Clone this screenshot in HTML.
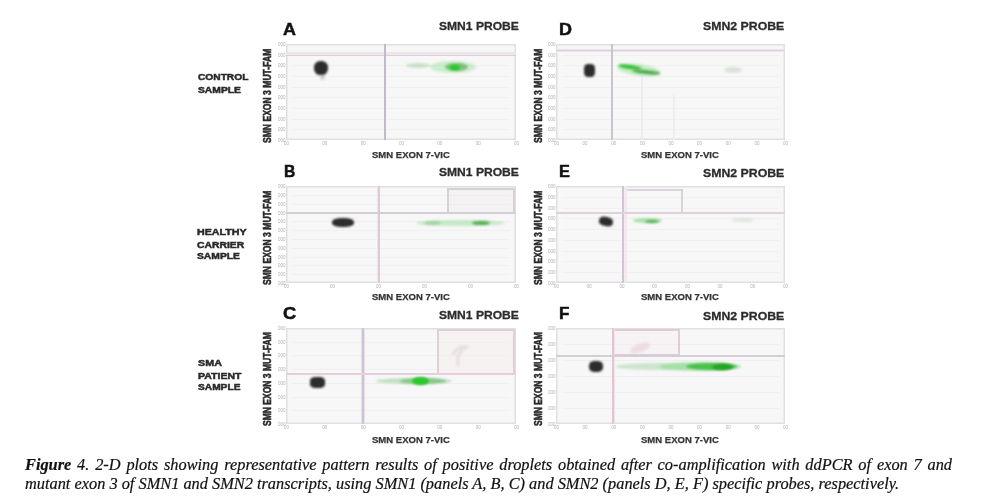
<!DOCTYPE html>
<html><head><meta charset="utf-8"><title>Figure 4</title>
<style>
html,body{margin:0;padding:0;background:#fff;}
body{width:991px;height:496px;position:relative;overflow:hidden;font-family:"Liberation Sans", Arial, sans-serif;}
.a{position:absolute;white-space:nowrap;}
.t{font-weight:bold;transform-origin:0 50%;-webkit-text-stroke:0.5px currentColor;}
#fig{position:absolute;left:0;top:0;width:991px;height:450px;filter:blur(0.55px);}
.plot{position:absolute;background:#f7f7f7;box-shadow:inset 0 0 0 1.5px #e0e0e0;}
.plot div{position:absolute;}
.tk{font-size:4.5px;line-height:5px;color:#b0b0b0;}
.cap{font-family:"Liberation Serif", "Times New Roman", serif;font-style:italic;font-size:16.35px;line-height:19px;color:#111;left:25px;width:927px;-webkit-text-stroke:0.2px #111;}
</style></head><body>

<div id="fig">
<div class="a t" style="left:197.64px;top:71.81px;font-size:9.80px;line-height:9.80px;color:#2a2a2a;transform:scaleX(1.040);">CONTROL</div>
<div class="a t" style="left:197.64px;top:84.65px;font-size:9.80px;line-height:9.80px;color:#2a2a2a;transform:scaleX(1.051);">SAMPLE</div>
<div class="a t" style="left:197.14px;top:227.09px;font-size:9.80px;line-height:9.80px;color:#2a2a2a;transform:scaleX(1.091);">HEALTHY</div>
<div class="a t" style="left:197.14px;top:239.53px;font-size:9.80px;line-height:9.80px;color:#2a2a2a;transform:scaleX(1.059);">CARRIER</div>
<div class="a t" style="left:197.14px;top:251.03px;font-size:9.80px;line-height:9.80px;color:#2a2a2a;transform:scaleX(1.051);">SAMPLE</div>
<div class="a t" style="left:198.40px;top:358.27px;font-size:9.80px;line-height:9.80px;color:#2a2a2a;transform:scaleX(1.099);">SMA</div>
<div class="a t" style="left:198.40px;top:370.87px;font-size:9.80px;line-height:9.80px;color:#2a2a2a;transform:scaleX(1.074);">PATIENT</div>
<div class="a t" style="left:198.40px;top:382.43px;font-size:9.80px;line-height:9.80px;color:#2a2a2a;transform:scaleX(1.039);">SAMPLE</div>
<div class="a t" style="left:283.40px;top:21.07px;font-size:17.00px;line-height:17.00px;color:#111;transform:scaleX(1.054);">A</div>
<div class="a t" style="left:438.58px;top:21.28px;font-size:11.80px;line-height:11.80px;color:#2c2c2c;transform:scaleX(1.024);-webkit-text-stroke-width:0.3px">SMN1 PROBE</div>
<div class="a t" style="left:262.95px;top:142.60px;font-size:10.00px;line-height:10.00px;color:#2a2a2a;transform-origin:0 0;transform:rotate(-90deg) scaleX(0.857)">SMN EXON 3 MUT-FAM</div>
<div class="plot" style="left:286px;top:44px;width:230px;height:96px"><div style="left:6px;right:6px;top:10.7px;height:1px;background:#f0f0f0"></div><div style="left:6px;right:6px;top:21.3px;height:1px;background:#f0f0f0"></div><div style="left:6px;right:6px;top:32.0px;height:1px;background:#f0f0f0"></div><div style="left:6px;right:6px;top:42.7px;height:1px;background:#f0f0f0"></div><div style="left:6px;right:6px;top:53.3px;height:1px;background:#f0f0f0"></div><div style="left:6px;right:6px;top:64.0px;height:1px;background:#f0f0f0"></div><div style="left:6px;right:6px;top:74.7px;height:1px;background:#f0f0f0"></div><div style="left:6px;right:6px;top:85.3px;height:1px;background:#f0f0f0"></div><div style="left:0;right:0;top:8.0px;height:3.0px;background:#efe4ec"></div><div style="left:0;right:0;top:10.6px;height:1.8px;background:#d6d2d8"></div><div style="top:0;bottom:0;left:97.8px;width:1.8px;background:#c2bac8"></div><div style="left:120.0px;top:18.5px;width:24.0px;height:5.0px;border-radius:50%;background:rgba(150,200,150,0.45);filter:blur(1px);transform:rotate(0deg)"></div><div style="left:144.0px;top:17.0px;width:46.0px;height:12.0px;border-radius:50%;background:rgba(150,225,150,0.45);filter:blur(1px);transform:rotate(0deg)"></div><div style="left:159.0px;top:18.5px;width:23.0px;height:8.5px;border-radius:50%;background:rgba(70,165,70,0.6);filter:blur(1px);transform:rotate(0deg)"></div><div style="left:163.5px;top:20.5px;width:10.5px;height:5.5px;border-radius:50%;background:rgb(30,205,30);filter:blur(1px);transform:rotate(0deg)"></div><div style="left:27.5px;top:16.5px;width:14.0px;height:14.0px;border-radius:45%;background:#2c2c2c;filter:blur(1.2px);transform:rotate(0deg)"></div><div style="left:34.0px;top:30.0px;width:5.0px;height:6.0px;border-radius:50%;background:rgba(90,90,90,0.25);filter:blur(1.2px);transform:rotate(0deg)"></div></div>
<div class="a tk" style="left:278px;top:42.0px">000</div>
<div class="a tk" style="left:278px;top:52.7px">000</div>
<div class="a tk" style="left:278px;top:63.3px">000</div>
<div class="a tk" style="left:278px;top:74.0px">000</div>
<div class="a tk" style="left:278px;top:84.7px">000</div>
<div class="a tk" style="left:278px;top:95.3px">000</div>
<div class="a tk" style="left:278px;top:106.0px">000</div>
<div class="a tk" style="left:278px;top:116.7px">000</div>
<div class="a tk" style="left:278px;top:127.3px">000</div>
<div class="a tk" style="left:278px;top:138.0px">000</div>
<div class="a tk" style="left:284.0px;top:141px">00</div>
<div class="a tk" style="left:322.3px;top:141px">00</div>
<div class="a tk" style="left:360.7px;top:141px">00</div>
<div class="a tk" style="left:399.0px;top:141px">00</div>
<div class="a tk" style="left:437.3px;top:141px">00</div>
<div class="a tk" style="left:475.7px;top:141px">00</div>
<div class="a tk" style="left:514.0px;top:141px">00</div>
<div class="a t" style="left:372.40px;top:150.43px;font-size:9.80px;line-height:9.80px;color:#333;transform:scaleX(0.972);-webkit-text-stroke-width:0.25px">SMN EXON 7-VIC</div>
<div class="a t" style="left:283.50px;top:163.35px;font-size:17.00px;line-height:17.00px;color:#111;transform:scaleX(0.923);">B</div>
<div class="a t" style="left:438.58px;top:167.28px;font-size:11.80px;line-height:11.80px;color:#2c2c2c;transform:scaleX(1.024);-webkit-text-stroke-width:0.3px">SMN1 PROBE</div>
<div class="a t" style="left:262.95px;top:284.60px;font-size:10.00px;line-height:10.00px;color:#2a2a2a;transform-origin:0 0;transform:rotate(-90deg) scaleX(0.857)">SMN EXON 3 MUT-FAM</div>
<div class="plot" style="left:286px;top:186px;width:230px;height:97px"><div style="left:6px;right:6px;top:8.8px;height:1px;background:#f0f0f0"></div><div style="left:6px;right:6px;top:17.6px;height:1px;background:#f0f0f0"></div><div style="left:6px;right:6px;top:26.5px;height:1px;background:#f0f0f0"></div><div style="left:6px;right:6px;top:35.3px;height:1px;background:#f0f0f0"></div><div style="left:6px;right:6px;top:44.1px;height:1px;background:#f0f0f0"></div><div style="left:6px;right:6px;top:52.9px;height:1px;background:#f0f0f0"></div><div style="left:6px;right:6px;top:61.7px;height:1px;background:#f0f0f0"></div><div style="left:6px;right:6px;top:70.5px;height:1px;background:#f0f0f0"></div><div style="left:6px;right:6px;top:79.4px;height:1px;background:#f0f0f0"></div><div style="left:6px;right:6px;top:88.2px;height:1px;background:#f0f0f0"></div><div style="left:160.5px;top:1.5px;width:68.5px;height:26.5px;border:2.2px solid #d8d0d6;background:rgba(240,232,236,0.3);box-sizing:border-box"></div><div style="top:0;bottom:0;left:90.9px;width:3.5px;background:#f2e2ec"></div><div style="top:0;bottom:0;left:91.8px;width:1.8px;background:#e0c8d6"></div><div style="left:0;right:0;top:26.2px;height:2.0px;background:#d2ced4"></div><div style="left:130.0px;top:33.8px;width:89.0px;height:6.2px;border-radius:50%;background:rgba(160,222,160,0.55);filter:blur(1px);transform:rotate(0deg)"></div><div style="left:138.0px;top:34.5px;width:17.0px;height:4.5px;border-radius:50%;background:rgba(120,190,120,0.45);filter:blur(1px);transform:rotate(0deg)"></div><div style="left:186.0px;top:34.8px;width:18.0px;height:4.2px;border-radius:50%;background:rgba(80,170,80,0.9);filter:blur(1px);transform:rotate(0deg)"></div><div style="left:45.5px;top:32.2px;width:22.0px;height:8.5px;border-radius:45%;background:#2c2c2c;filter:blur(1.2px);transform:rotate(0deg)"></div></div>
<div class="a tk" style="left:278px;top:184.0px">000</div>
<div class="a tk" style="left:278px;top:192.8px">000</div>
<div class="a tk" style="left:278px;top:201.6px">000</div>
<div class="a tk" style="left:278px;top:210.5px">000</div>
<div class="a tk" style="left:278px;top:219.3px">000</div>
<div class="a tk" style="left:278px;top:228.1px">000</div>
<div class="a tk" style="left:278px;top:236.9px">000</div>
<div class="a tk" style="left:278px;top:245.7px">000</div>
<div class="a tk" style="left:278px;top:254.5px">000</div>
<div class="a tk" style="left:278px;top:263.4px">000</div>
<div class="a tk" style="left:278px;top:272.2px">000</div>
<div class="a tk" style="left:278px;top:281.0px">000</div>
<div class="a tk" style="left:284.0px;top:284px">00</div>
<div class="a tk" style="left:330.0px;top:284px">00</div>
<div class="a tk" style="left:376.0px;top:284px">00</div>
<div class="a tk" style="left:422.0px;top:284px">00</div>
<div class="a tk" style="left:468.0px;top:284px">00</div>
<div class="a tk" style="left:514.0px;top:284px">00</div>
<div class="a t" style="left:372.40px;top:292.43px;font-size:9.80px;line-height:9.80px;color:#333;transform:scaleX(0.972);-webkit-text-stroke-width:0.25px">SMN EXON 7-VIC</div>
<div class="a t" style="left:283.14px;top:305.45px;font-size:17.00px;line-height:17.00px;color:#111;transform:scaleX(1.075);">C</div>
<div class="a t" style="left:438.58px;top:310.34px;font-size:11.80px;line-height:11.80px;color:#2c2c2c;transform:scaleX(1.024);-webkit-text-stroke-width:0.3px">SMN1 PROBE</div>
<div class="a t" style="left:262.95px;top:425.60px;font-size:10.00px;line-height:10.00px;color:#2a2a2a;transform-origin:0 0;transform:rotate(-90deg) scaleX(0.852)">SMN EXON 3 MUT-FAM</div>
<div class="plot" style="left:286px;top:328px;width:230px;height:96px"><div style="left:6px;right:6px;top:13.7px;height:1px;background:#f0f0f0"></div><div style="left:6px;right:6px;top:27.4px;height:1px;background:#f0f0f0"></div><div style="left:6px;right:6px;top:41.1px;height:1px;background:#f0f0f0"></div><div style="left:6px;right:6px;top:54.9px;height:1px;background:#f0f0f0"></div><div style="left:6px;right:6px;top:68.6px;height:1px;background:#f0f0f0"></div><div style="left:6px;right:6px;top:82.3px;height:1px;background:#f0f0f0"></div><div style="left:150.5px;top:1.0px;width:78.5px;height:45.5px;border:2.2px solid #e0d0d6;background:rgba(244,234,236,0.4);box-sizing:border-box"></div><div style="top:0;bottom:0;left:75.1px;width:3.5px;background:#e8dce6"></div><div style="top:0;bottom:0;left:75.8px;width:2.0px;background:#cfc4d4"></div><div style="left:0;right:0;top:44.6px;height:2.2px;background:#e8cedc"></div><div style="left:90.0px;top:50.0px;width:76.0px;height:6.0px;border-radius:50%;background:rgba(150,205,150,0.55);filter:blur(1px);transform:rotate(0deg)"></div><div style="left:114.0px;top:49.5px;width:46.0px;height:6.5px;border-radius:50%;background:rgba(90,180,90,0.55);filter:blur(1px);transform:rotate(0deg)"></div><div style="left:126.0px;top:48.5px;width:17.0px;height:8.0px;border-radius:50%;background:rgb(40,200,40);filter:blur(1px);transform:rotate(0deg)"></div><div style="left:23.7px;top:49.1px;width:15.0px;height:10.5px;border-radius:35%;background:#2c2c2c;filter:blur(1.2px);transform:rotate(0deg)"></div><svg style="position:absolute;left:0;top:0;overflow:visible;filter:blur(1.3px)" width="1" height="1"><path d="M167.0 27.0 Q172.0 17.0 180.0 19.0 Q170.0 24.0 172.0 38.0" fill="none" stroke="rgba(210,190,195,0.4)" stroke-width="3"/></svg></div>
<div class="a tk" style="left:278px;top:326.0px">000</div>
<div class="a tk" style="left:278px;top:339.7px">000</div>
<div class="a tk" style="left:278px;top:353.4px">000</div>
<div class="a tk" style="left:278px;top:367.1px">000</div>
<div class="a tk" style="left:278px;top:380.9px">000</div>
<div class="a tk" style="left:278px;top:394.6px">000</div>
<div class="a tk" style="left:278px;top:408.3px">000</div>
<div class="a tk" style="left:278px;top:422.0px">000</div>
<div class="a tk" style="left:284.0px;top:425px">00</div>
<div class="a tk" style="left:322.3px;top:425px">00</div>
<div class="a tk" style="left:360.7px;top:425px">00</div>
<div class="a tk" style="left:399.0px;top:425px">00</div>
<div class="a tk" style="left:437.3px;top:425px">00</div>
<div class="a tk" style="left:475.7px;top:425px">00</div>
<div class="a tk" style="left:514.0px;top:425px">00</div>
<div class="a t" style="left:372.40px;top:434.93px;font-size:9.80px;line-height:9.80px;color:#333;transform:scaleX(0.972);-webkit-text-stroke-width:0.25px">SMN EXON 7-VIC</div>
<div class="a t" style="left:558.94px;top:21.07px;font-size:17.00px;line-height:17.00px;color:#111;transform:scaleX(1.056);">D</div>
<div class="a t" style="left:703.14px;top:21.28px;font-size:11.80px;line-height:11.80px;color:#2c2c2c;transform:scaleX(1.042);-webkit-text-stroke-width:0.3px">SMN2 PROBE</div>
<div class="a t" style="left:533.94px;top:142.60px;font-size:10.00px;line-height:10.00px;color:#2a2a2a;transform-origin:0 0;transform:rotate(-90deg) scaleX(0.857)">SMN EXON 3 MUT-FAM</div>
<div class="plot" style="left:556px;top:44px;width:229px;height:96px"><div style="left:6px;right:6px;top:10.7px;height:1px;background:#f0f0f0"></div><div style="left:6px;right:6px;top:21.3px;height:1px;background:#f0f0f0"></div><div style="left:6px;right:6px;top:32.0px;height:1px;background:#f0f0f0"></div><div style="left:6px;right:6px;top:42.7px;height:1px;background:#f0f0f0"></div><div style="left:6px;right:6px;top:53.3px;height:1px;background:#f0f0f0"></div><div style="left:6px;right:6px;top:64.0px;height:1px;background:#f0f0f0"></div><div style="left:6px;right:6px;top:74.7px;height:1px;background:#f0f0f0"></div><div style="left:6px;right:6px;top:85.3px;height:1px;background:#f0f0f0"></div><div style="left:0;right:0;top:4.9px;height:3.5px;background:#ece2ea"></div><div style="left:0;right:0;top:5.9px;height:1.5px;background:#dcd2da"></div><div style="top:0;bottom:0;left:55.0px;width:1.8px;background:#cbc4cf"></div><div style="top:31.0px;height:65.0px;left:85.0px;width:2.0px;background:#ededed"></div><div style="top:51.0px;height:45.0px;left:116.5px;width:2.0px;background:#efefef"></div><div style="left:61.0px;top:19.5px;width:44.0px;height:12.0px;border-radius:50%;background:rgba(150,225,150,0.5);filter:blur(1px);transform:rotate(8deg)"></div><div style="left:62.0px;top:21.3px;width:24.0px;height:4.2px;border-radius:50%;background:rgb(50,195,50);filter:blur(1px);transform:rotate(8deg)"></div><div style="left:76.0px;top:26.0px;width:28.0px;height:4.0px;border-radius:50%;background:rgb(80,170,80);filter:blur(1px);transform:rotate(6deg)"></div><div style="left:168.0px;top:23.0px;width:18.0px;height:6.0px;border-radius:50%;background:rgba(170,200,170,0.4);filter:blur(1px);transform:rotate(0deg)"></div><div style="left:27.8px;top:19.5px;width:11.0px;height:13.0px;border-radius:35%;background:#2c2c2c;filter:blur(1.2px);transform:rotate(0deg)"></div></div>
<div class="a tk" style="left:548px;top:42.0px">000</div>
<div class="a tk" style="left:548px;top:52.7px">000</div>
<div class="a tk" style="left:548px;top:63.3px">000</div>
<div class="a tk" style="left:548px;top:74.0px">000</div>
<div class="a tk" style="left:548px;top:84.7px">000</div>
<div class="a tk" style="left:548px;top:95.3px">000</div>
<div class="a tk" style="left:548px;top:106.0px">000</div>
<div class="a tk" style="left:548px;top:116.7px">000</div>
<div class="a tk" style="left:548px;top:127.3px">000</div>
<div class="a tk" style="left:548px;top:138.0px">000</div>
<div class="a tk" style="left:554.0px;top:141px">00</div>
<div class="a tk" style="left:582.6px;top:141px">00</div>
<div class="a tk" style="left:611.2px;top:141px">00</div>
<div class="a tk" style="left:639.9px;top:141px">00</div>
<div class="a tk" style="left:668.5px;top:141px">00</div>
<div class="a tk" style="left:697.1px;top:141px">00</div>
<div class="a tk" style="left:725.8px;top:141px">00</div>
<div class="a tk" style="left:754.4px;top:141px">00</div>
<div class="a tk" style="left:783.0px;top:141px">00</div>
<div class="a t" style="left:641.40px;top:150.43px;font-size:9.80px;line-height:9.80px;color:#333;transform:scaleX(0.972);-webkit-text-stroke-width:0.25px">SMN EXON 7-VIC</div>
<div class="a t" style="left:558.94px;top:163.35px;font-size:17.00px;line-height:17.00px;color:#111;transform:scaleX(0.961);">E</div>
<div class="a t" style="left:703.14px;top:167.66px;font-size:11.80px;line-height:11.80px;color:#2c2c2c;transform:scaleX(1.042);-webkit-text-stroke-width:0.3px">SMN2 PROBE</div>
<div class="a t" style="left:533.94px;top:284.60px;font-size:10.00px;line-height:10.00px;color:#2a2a2a;transform-origin:0 0;transform:rotate(-90deg) scaleX(0.857)">SMN EXON 3 MUT-FAM</div>
<div class="plot" style="left:556px;top:186px;width:229px;height:97px"><div style="left:6px;right:6px;top:10.8px;height:1px;background:#f0f0f0"></div><div style="left:6px;right:6px;top:21.6px;height:1px;background:#f0f0f0"></div><div style="left:6px;right:6px;top:32.3px;height:1px;background:#f0f0f0"></div><div style="left:6px;right:6px;top:43.1px;height:1px;background:#f0f0f0"></div><div style="left:6px;right:6px;top:53.9px;height:1px;background:#f0f0f0"></div><div style="left:6px;right:6px;top:64.7px;height:1px;background:#f0f0f0"></div><div style="left:6px;right:6px;top:75.4px;height:1px;background:#f0f0f0"></div><div style="left:6px;right:6px;top:86.2px;height:1px;background:#f0f0f0"></div><div style="left:66.7px;top:2.5px;width:60.5px;height:25.5px;border:2.2px solid #d8d4da;background:rgba(0,0,0,0);box-sizing:border-box"></div><div style="top:0;bottom:0;left:67.0px;width:4.0px;background:#f4e8f0"></div><div style="top:0;bottom:0;left:65.9px;width:1.8px;background:#d0c6d2"></div><div style="left:0;right:0;top:26.4px;height:1.8px;background:#e0d0da"></div><div style="left:76.7px;top:32.2px;width:29.1px;height:5.0px;border-radius:50%;background:rgba(140,215,140,0.7);filter:blur(1px);transform:rotate(0deg)"></div><div style="left:88.5px;top:33.5px;width:14.5px;height:3.0px;border-radius:50%;background:rgb(90,175,90);filter:blur(1px);transform:rotate(0deg)"></div><div style="left:175.0px;top:32.0px;width:23.0px;height:4.0px;border-radius:50%;background:rgba(190,205,190,0.4);filter:blur(1px);transform:rotate(0deg)"></div><div style="left:43.0px;top:30.7px;width:14.0px;height:9.0px;border-radius:40%;background:#2c2c2c;filter:blur(1.2px);transform:rotate(12deg)"></div></div>
<div class="a tk" style="left:548px;top:184.0px">000</div>
<div class="a tk" style="left:548px;top:194.8px">000</div>
<div class="a tk" style="left:548px;top:205.6px">000</div>
<div class="a tk" style="left:548px;top:216.3px">000</div>
<div class="a tk" style="left:548px;top:227.1px">000</div>
<div class="a tk" style="left:548px;top:237.9px">000</div>
<div class="a tk" style="left:548px;top:248.7px">000</div>
<div class="a tk" style="left:548px;top:259.4px">000</div>
<div class="a tk" style="left:548px;top:270.2px">000</div>
<div class="a tk" style="left:548px;top:281.0px">000</div>
<div class="a tk" style="left:554.0px;top:284px">00</div>
<div class="a tk" style="left:586.7px;top:284px">00</div>
<div class="a tk" style="left:619.4px;top:284px">00</div>
<div class="a tk" style="left:652.1px;top:284px">00</div>
<div class="a tk" style="left:684.9px;top:284px">00</div>
<div class="a tk" style="left:717.6px;top:284px">00</div>
<div class="a tk" style="left:750.3px;top:284px">00</div>
<div class="a tk" style="left:783.0px;top:284px">00</div>
<div class="a t" style="left:641.40px;top:292.43px;font-size:9.80px;line-height:9.80px;color:#333;transform:scaleX(0.972);-webkit-text-stroke-width:0.25px">SMN EXON 7-VIC</div>
<div class="a t" style="left:558.94px;top:305.45px;font-size:17.00px;line-height:17.00px;color:#111;transform:scaleX(1.005);">F</div>
<div class="a t" style="left:703.14px;top:311.10px;font-size:11.80px;line-height:11.80px;color:#2c2c2c;transform:scaleX(1.042);-webkit-text-stroke-width:0.3px">SMN2 PROBE</div>
<div class="a t" style="left:533.94px;top:425.60px;font-size:10.00px;line-height:10.00px;color:#2a2a2a;transform-origin:0 0;transform:rotate(-90deg) scaleX(0.852)">SMN EXON 3 MUT-FAM</div>
<div class="plot" style="left:556px;top:328px;width:229px;height:96px"><div style="left:6px;right:6px;top:16.0px;height:1px;background:#f0f0f0"></div><div style="left:6px;right:6px;top:32.0px;height:1px;background:#f0f0f0"></div><div style="left:6px;right:6px;top:48.0px;height:1px;background:#f0f0f0"></div><div style="left:6px;right:6px;top:64.0px;height:1px;background:#f0f0f0"></div><div style="left:6px;right:6px;top:80.0px;height:1px;background:#f0f0f0"></div><div style="left:57.0px;top:0.5px;width:67.0px;height:27.5px;border:2.2px solid #e0ccd6;background:rgba(246,236,240,0.35);box-sizing:border-box"></div><div style="top:0;bottom:0;left:55.5px;width:3.0px;background:#f3e2ec"></div><div style="top:0;bottom:0;left:56.2px;width:1.6px;background:#e2c4d4"></div><div style="left:0;right:0;top:26.5px;height:2.0px;background:#d2ced4"></div><div style="left:59.6px;top:35.0px;width:84.4px;height:6.5px;border-radius:50%;background:rgba(170,215,175,0.55);filter:blur(1px);transform:rotate(0deg)"></div><div style="left:104.0px;top:34.0px;width:81.0px;height:8.5px;border-radius:50%;background:rgba(140,220,140,0.6);filter:blur(1px);transform:rotate(0deg)"></div><div style="left:130.0px;top:34.5px;width:51.0px;height:7.0px;border-radius:50%;background:rgba(60,185,60,0.85);filter:blur(1px);transform:rotate(0deg)"></div><div style="left:156.0px;top:35.5px;width:21.0px;height:6.0px;border-radius:50%;background:rgb(35,165,35);filter:blur(1px);transform:rotate(0deg)"></div><div style="left:33.0px;top:32.8px;width:14.0px;height:11.5px;border-radius:40%;background:#2c2c2c;filter:blur(1.2px);transform:rotate(0deg)"></div><div style="left:74.0px;top:16.0px;width:20px;height:8px;border-radius:40%;background:rgba(225,195,200,0.45);filter:blur(1.2px);transform:rotate(-20deg)"></div></div>
<div class="a tk" style="left:548px;top:326.0px">000</div>
<div class="a tk" style="left:548px;top:342.0px">000</div>
<div class="a tk" style="left:548px;top:358.0px">000</div>
<div class="a tk" style="left:548px;top:374.0px">000</div>
<div class="a tk" style="left:548px;top:390.0px">000</div>
<div class="a tk" style="left:548px;top:406.0px">000</div>
<div class="a tk" style="left:548px;top:422.0px">000</div>
<div class="a tk" style="left:554.0px;top:425px">00</div>
<div class="a tk" style="left:582.6px;top:425px">00</div>
<div class="a tk" style="left:611.2px;top:425px">00</div>
<div class="a tk" style="left:639.9px;top:425px">00</div>
<div class="a tk" style="left:668.5px;top:425px">00</div>
<div class="a tk" style="left:697.1px;top:425px">00</div>
<div class="a tk" style="left:725.8px;top:425px">00</div>
<div class="a tk" style="left:754.4px;top:425px">00</div>
<div class="a tk" style="left:783.0px;top:425px">00</div>
<div class="a t" style="left:641.40px;top:434.93px;font-size:9.80px;line-height:9.80px;color:#333;transform:scaleX(0.972);-webkit-text-stroke-width:0.25px">SMN EXON 7-VIC</div>
</div>
<div class="a cap" style="top:455.2px;text-align:justify;text-align-last:justify"><b>Figure</b> 4. 2-D plots showing representative pattern results of positive droplets obtained after co-amplification with ddPCR of exon 7 and</div>
<div class="a cap" style="top:474.2px">mutant exon 3 of SMN1 and SMN2 transcripts, using SMN1 (panels A, B, C) and SMN2 (panels D, E, F) specific probes, respectively.</div>
</body></html>
